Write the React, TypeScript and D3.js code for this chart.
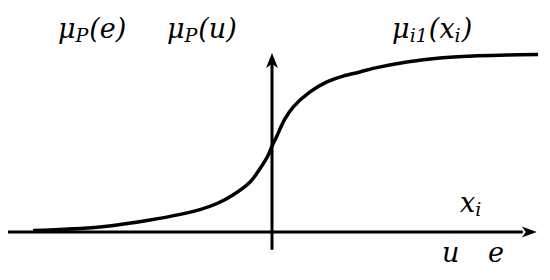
import { useEffect, useRef } from "react"
import * as d3 from "d3"

// sigmoid membership curve (x in axis units, y in [0,1])
const curveX = [-9.05, -6.52, -4.62, -2.73, -2.08, -1.48, -0.83, -0.45, -0.15, 0, 0.15, 0.49, 0.8, 1.44, 2.08, 2.69, 3.33, 3.83, 5.11, 6.36, 7.61, 8.9, 10.08]
const curveY = [0.008, 0.028, 0.067, 0.126, 0.16, 0.208, 0.281, 0.357, 0.43, 0.483, 0.528, 0.635, 0.702, 0.787, 0.843, 0.876, 0.899, 0.919, 0.955, 0.978, 0.989, 0.994, 0.997]

// labels (position in axis units)
const labelX = [-8.11, -3.98, 4.55, 7.12, 6.44, 8.18]
const labelY = [1.09, 1.09, 1.09, 0.112, -0.169, -0.169]
const labelMain = ["μ", "μ", "μ", "x", "u", "e"]
const labelSub = ["P", "P", "i1", "i", "", ""]
const labelRest = ["(e)", "(u)", "(x", "", "", ""]
const labelSub2 = ["", "", "i", "", "", ""]
const labelEnd = ["", "", ")", "", "", ""]

const W = 550
const H = 280
const FONT = "DejaVu Serif"
const FS = 27
const SUB = 19

const App = () => {
  const ref = useRef<SVGSVGElement>(null)

  useEffect(() => {
    const svg = d3.select(ref.current)
    svg.selectAll("*").remove()

    const x = d3.scaleLinear().domain([-10, 10]).range([8, 536])
    const y = d3.scaleLinear().domain([0, 1]).range([232, 54])

    const g = svg.append("g")

    // horizontal axis
    g.append("line")
      .attr("x1", x(-10)).attr("x2", x(9.5))
      .attr("y1", y(0)).attr("y2", y(0))
      .attr("stroke", "#000").attr("stroke-width", 3)
    g.append("path")
      .attr("d", `M${x(10.03)},${y(0)} L${x(10.03) - 15},${y(0) - 5.5} L${x(10.03) - 11},${y(0)} L${x(10.03) - 15},${y(0) + 5.5} Z`)
      .attr("fill", "#000")

    // vertical axis
    g.append("line")
      .attr("x1", x(0)).attr("x2", x(0))
      .attr("y1", y(-0.1)).attr("y2", y(0.98))
      .attr("stroke", "#000").attr("stroke-width", 3)
    g.append("path")
      .attr("d", `M${x(0)},${y(1.005)} L${x(0) - 6},${y(1.005) + 15} L${x(0)},${y(1.005) + 11} L${x(0) + 6},${y(1.005) + 15} Z`)
      .attr("fill", "#000")

    // curve
    const line = d3.line<number>()
      .curve(d3.curveCatmullRom.alpha(0.5))
      .x(i => x(curveX[i]))
      .y(i => y(curveY[i]))
    g.append("path")
      .attr("d", line(d3.range(curveX.length)))
      .attr("fill", "none")
      .attr("stroke", "#000")
      .attr("stroke-width", 3.5)

    // labels
    d3.range(labelMain.length).forEach(i => {
      const t = g.append("text")
        .attr("x", x(labelX[i]))
        .attr("y", y(labelY[i]))
        .attr("font-family", FONT)
        .attr("font-style", "italic")
        .attr("font-size", FS)
        .attr("fill", "#000")
      t.append("tspan").text(labelMain[i])
      if (labelSub[i]) t.append("tspan").attr("font-size", SUB).attr("dy", 4).text(labelSub[i])
      if (labelRest[i]) t.append("tspan").attr("dy", -4).attr("dx", 1).text(labelRest[i])
      if (labelSub2[i]) t.append("tspan").attr("font-size", SUB).attr("dy", 4).text(labelSub2[i])
      if (labelEnd[i]) t.append("tspan").attr("dy", -4).attr("dx", 1).text(labelEnd[i])
    })
  }, [])

  return (
    <svg ref={ref} width={W} height={H}
      style={{ position: "absolute", left: 0, top: 0, background: "#fff" }} />
  )
}

export default App
